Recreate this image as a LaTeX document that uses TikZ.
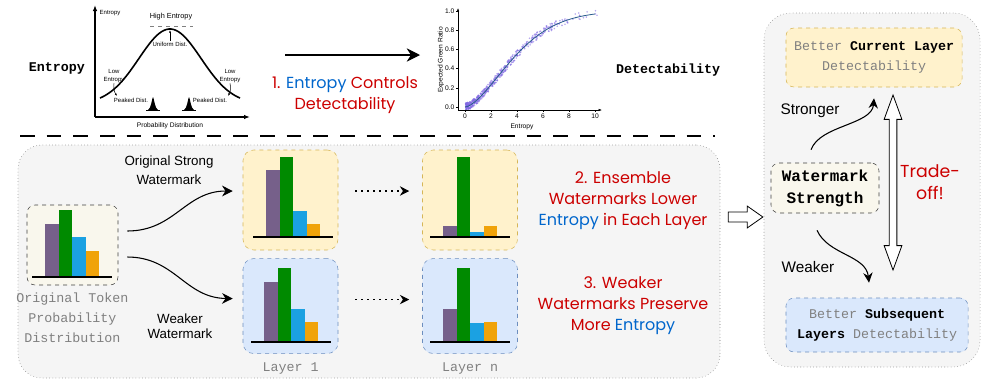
\documentclass[tikz,border=0pt]{standalone}
\usepackage{xcolor}
\usepackage{fontspec}
\setmainfont{Liberation Sans}
\setmonofont{Liberation Mono}
\newfontfamily\comicfont{Poppins}
\usepackage{tikz}
\usetikzlibrary{shapes.arrows,arrows.meta,positioning}

\definecolor{mred}{RGB}{204,0,0}
\definecolor{mblue}{RGB}{0,102,204}
\definecolor{panelgray}{RGB}{245,245,245}
\definecolor{beige}{RGB}{249,247,237}
\definecolor{ylwfill}{RGB}{255,242,204}
\definecolor{ylwdraw}{RGB}{214,182,86}
\definecolor{bluefill}{RGB}{218,232,252}
\definecolor{bluedraw}{RGB}{108,142,191}
\definecolor{barpurple}{RGB}{118,96,138}
\definecolor{bargreen}{RGB}{0,138,0}
\definecolor{barblue}{RGB}{27,161,226}
\definecolor{barorange}{RGB}{240,163,10}
\definecolor{txtgray}{RGB}{128,128,128}
\definecolor{dotpurple}{RGB}{125,100,225}
\definecolor{fitblue}{RGB}{40,90,140}

\begin{document}
\begin{tikzpicture}[x=0.75pt, y=-0.75pt,
    panel/.style={draw=black!55, dotted, fill=panelgray, rounded corners=18pt, inner sep=0pt},
    distbox/.style={draw=black!75, dashed, fill=beige, rounded corners=6pt, inner sep=0pt},
    ylwbox/.style={draw=ylwdraw, dashed, fill=ylwfill, rounded corners=8pt, minimum width=71.25pt, minimum height=75pt, inner sep=0pt},
    bluebox/.style={draw=bluedraw, dashed, fill=bluefill, rounded corners=8pt, minimum width=71.25pt, minimum height=71.25pt, inner sep=0pt},
    graylabel/.style={font=\ttfamily\fontsize{10}{15}\selectfont, text=txtgray, align=center},
    boldlabel/.style={font=\ttfamily\bfseries\fontsize{10}{12}\selectfont},
    comic/.style={font=\comicfont\fontsize{12}{15.75}\selectfont, text=mred, align=center},
    sanslabel/.style={font=\fontsize{10}{14.25}\selectfont, align=center},
    tinylabel/.style={font=\fontsize{4.5}{5.5}\selectfont, align=center, inner sep=0.5pt},
    ticklabel/.style={font=\fontsize{5}{6}\selectfont, inner sep=1pt},
    arrow/.style={-{Stealth[length=8pt, width=8pt]}, thick},
    dotarrow/.style={-{Stealth[length=7pt, width=7pt]}, dash pattern=on 1.2pt off 3.3pt, thick}
]
\useasboundingbox (0,0) rectangle (987,390);

% entropy sketch
\draw[-{Latex[length=4.5pt]}, line width=0.9pt] (95,117) -- (95,5);
\draw[-{Latex[length=4.5pt]}, line width=0.9pt] (95,117) -- (250,117);
\draw[line width=1.2pt] plot[domain=100:240, samples=60, smooth] (\x, {104-75*exp(-((\x-170)/44)*((\x-170)/44))});
\draw[dashed, gray] (150,26) -- (193,26);
\node[tinylabel] at (110,13) {Entropy};
\node[tinylabel, font=\fontsize{5.5}{6.5}\selectfont] at (171,17) {High Entropy};
\node[tinylabel] (uni) at (170,44) {Uniform Dist.};
\draw[-{Latex[length=2pt]}, thin] (uni.north) -- (170,30);
\node[tinylabel] (lowl) at (114,76) {Low\\Entropy};
\node[tinylabel] (lowr) at (230,76) {Low\\Entropy};
\draw[-{Latex[length=2pt]}, thin] (lowl.south) to[bend right=20] (117,96);
\draw[-{Latex[length=2pt]}, thin] (lowr.south) to[bend left=20] (228,96);
\node[tinylabel] at (131,100) {Peaked Dist.};
\node[tinylabel] at (210,100) {Peaked Dist.};
\foreach \sx in {153,189}{
  \fill (\sx-5,110) .. controls (\sx-2,109) and (\sx-1,98) .. (\sx,97) .. controls (\sx+1,98) and (\sx+2,109) .. (\sx+5,110) -- cycle;
  \draw (\sx-7,110) -- (\sx+7,110);
}
\node[tinylabel, font=\fontsize{5}{6}\selectfont] at (170,126) {Probability Distribution};

\node[boldlabel] (ent) at (57,68) {Entropy};
\node[boldlabel] (det) at (668,70) {Detectability};
\coordinate (sketchend) at (285,55);
\coordinate (scatterstart) at (420,55);
\draw[-{Stealth[length=10pt, width=10pt]}, thick] (sketchend) -- (scatterstart);
\node[comic] (step1) at (345,95) {1. \textcolor{mblue}{Entropy} Controls\\Detectability};

% scatter plot
\pgfmathsetseed{42}
\foreach \i in {1,...,550}{
  \pgfmathsetmacro\e{0.05+10.4*rnd*rnd}
  \pgfmathsetmacro\g{1-exp(-(\e/4.6)^1.6)+0.08*(rnd-0.5)}
  \fill[dotpurple, opacity=0.55] (465+13*\e, 107-96*\g) circle[radius=0.9];
}
\draw[fitblue, semithick] plot[domain=0.01:10, samples=50, smooth] ({465+13*\x}, {107-96*(1-exp(-(\x/4.6)^1.6))});
\draw[-{Latex[length=2.5pt]}, thin] (458,110) -- (458,8);
\draw[-{Latex[length=2.5pt]}, thin] (458,110) -- (602,110);
\foreach \v in {0,2,...,10}{
  \draw (465+13*\v,110) -- ++(0,2);
  \node[ticklabel, below] at (465+13*\v,112) {\v};
}
\foreach \v/\t in {0/0.0, 0.2/0.2, 0.4/0.4, 0.6/0.6, 0.8/0.8, 1/1.0}{
  \draw (458,107-96*\v) -- ++(-2,0);
  \node[ticklabel, left] at (456,107-96*\v) {\t};
}
\node[ticklabel, rotate=90] at (441,60) {Expected Green Ratio};
\node[ticklabel] at (522,127) {Entropy};

\draw[dash pattern=on 11pt off 9pt, line width=1.5pt] (20,136) -- (715,136);

% ensemble panel
\node[panel, minimum width=526.5pt, minimum height=174.75pt] (lower) at (369,261.5) {};
\node[distbox, minimum width=68.25pt, minimum height=60pt] (orig) at (72.5,245) {};
\node[graylabel, below=2pt of orig] (origlbl) {Original Token\\Probability\\Distribution};
\node[ylwbox] (l1y) at (290.5,200) {};
\node[bluebox, below=6pt of l1y] (l1b) {};
\node[ylwbox] (lny) at (470,200) {};
\node[bluebox, below=6pt of lny] (lnb) {};
\node[graylabel, below=3pt of l1b] {Layer 1};
\node[graylabel, below=3pt of lnb] {Layer n};

\foreach \bx/\by/\ha/\hb/\hc/\hd in {45/277/53/67/40/26, 266/237/67/80/26/13, 264/342/60/74/33/20, 443/237/11/80/5/11, 443/342/33/74/19/20}{
  \fill[barpurple] (\bx,\by) rectangle ++(13.5,-\ha);
  \fill[bargreen] (\bx+13.5,\by) rectangle ++(13.5,-\hb);
  \fill[barblue] (\bx+27,\by) rectangle ++(13.5,-\hc);
  \fill[barorange] (\bx+40.5,\by) rectangle ++(13.5,-\hd);
  \draw[thick] (\bx-13,\by) -- (\bx+67,\by);
}

\draw[arrow] ([shift={(9,-14)}]orig.east) .. controls (175,231) and (185,191) .. ([shift={(-10,-9)}]l1y.west);
\draw[arrow] ([shift={(9,12)}]orig.east) .. controls (175,257) and (185,298) .. ([shift={(-10,-7.5)}]l1b.west);
\node[sanslabel] at (169,170) {Original Strong\\Watermark};
\node[sanslabel, font=\fontsize{10}{11.5}\selectfont] at (180,326) {Weaker\\Watermark};
\draw[dotarrow] ([shift={(17,-9)}]l1y.east) -- ([shift={(-13,-9)}]lny.west);
\draw[dotarrow] ([shift={(17,-6.5)}]l1b.east) -- ([shift={(-13,-6.5)}]lnb.west);

\node[comic] at (623,201) {2. Ensemble\\Watermarks Lower\\\textcolor{mblue}{Entropy} in Each Layer};
\node[comic] at (623,306) {3. Weaker\\Watermarks Preserve\\More \textcolor{mblue}{Entropy}};

\node[single arrow, draw, fill=white, semithick, minimum height=26pt, inner xsep=0pt, inner ysep=3.4pt, single arrow head extend=4.5pt, single arrow tip angle=70] (flow) at (742,217) {};

% trade-off panel
\node[panel, minimum width=162pt, minimum height=265.5pt, rounded corners=20pt] (right) at (872,190) {};
\node[ylwbox, graylabel, minimum width=132pt, minimum height=44.25pt, rounded corners=6pt] (cur) at (874,57.5) {Better \textcolor{black}{\bfseries Current Layer}\\Detectability};
\node[distbox, align=center, minimum width=81pt, minimum height=37.5pt, font=\ttfamily\bfseries\fontsize{12}{16.5}\selectfont] (wms) at (825,188) {Watermark\\Strength};
\node[bluebox, graylabel, minimum width=136.5pt, minimum height=40.5pt, rounded corners=6pt] (low) at (877,325) {Better \textcolor{black}{\bfseries Subsequent}\\\textcolor{black}{\bfseries Layers} Detectability};
\node[double arrow, draw, fill=white, semithick, rotate=90, minimum height=131.25pt, inner xsep=0pt, inner ysep=2.6pt, double arrow head extend=3.75pt, double arrow tip angle=40] (trade) at (893,182.5) {};
\node[comic, font=\comicfont\fontsize{13}{16}\selectfont] at (930,182) {Trade-\\off!};
\node[sanslabel, font=\fontsize{11.5}{14}\selectfont] at (810,111) {Stronger};
\node[sanslabel, font=\fontsize{11.5}{14}\selectfont] at (808,267) {Weaker};
\draw[-{Stealth[length=7.5pt, width=7pt]}, thick] ([shift={(-14,-13)}]wms.north) .. controls (820,125) and (872,125) .. ([shift={(0,11)}]cur.south);
\draw[-{Stealth[length=7.5pt, width=7pt]}, thick] ([shift={(-8,17)}]wms.south) .. controls (828,255) and (866,255) .. ([shift={(-8,-15)}]low.north);
\end{tikzpicture}
\end{document}
